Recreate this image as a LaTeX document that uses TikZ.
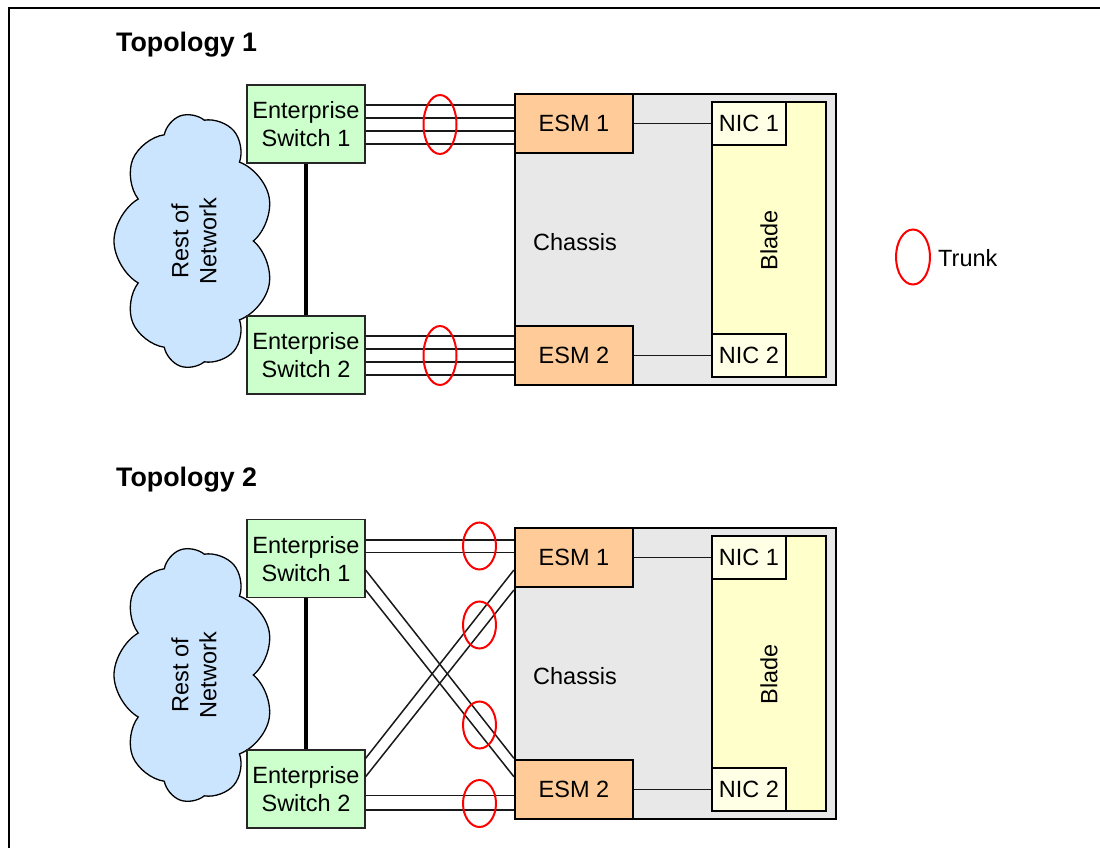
\documentclass[tikz,border=0pt]{standalone}
\usepackage{fontspec}
\setmainfont{Liberation Sans}
\usetikzlibrary{shapes.geometric,shapes.symbols}
\definecolor{cloudblue}{HTML}{CCE5FF}
\definecolor{esgreen}{HTML}{CCFFCC}
\definecolor{esmorange}{HTML}{FFCC99}
\definecolor{chassisgray}{HTML}{E8E8E8}
\definecolor{bladeyellow}{HTML}{FFFFCC}
\definecolor{nicyellow}{HTML}{FFFFE5}
\definecolor{trunkred}{HTML}{FF0000}
\begin{document}
\begin{tikzpicture}[x=1pt,y=-1pt,
  font=\fontsize{23.5}{28}\selectfont,
  title/.style={anchor=west, inner sep=0pt, font=\fontsize{26.8}{30}\selectfont\bfseries},
  cloudnode/.style={cloud, cloud puffs=9, cloud puff arc=120, draw, line width=1.3pt, fill=cloudblue, rotate=90, minimum width=254pt, minimum height=160pt, align=center, inner sep=0pt},
  esbox/.style={draw=black!85, line width=1.2pt, fill=esgreen, minimum width=118pt, minimum height=78pt, align=center, inner sep=0pt, text depth=-5.5pt},
  chassisbox/.style={draw, line width=2pt, fill=chassisgray, minimum width=321pt, minimum height=291pt, inner sep=0pt},
  esmbox/.style={draw, line width=2.2pt, fill=esmorange, minimum width=118pt, minimum height=59pt, inner sep=0pt, text depth=-5.5pt},
  bladebox/.style={draw, line width=2pt, fill=bladeyellow, minimum width=114pt, minimum height=275pt, inner sep=0pt},
  nicbox/.style={draw, line width=2pt, fill=nicyellow, minimum width=74pt, minimum height=43pt, inner sep=0pt, text depth=-5.5pt},
  plain/.style={inner sep=0pt},
  link/.style={line width=1.5pt, black!90},
  eslink/.style={line width=3.5pt},
  trunk/.style={ellipse, draw=trunkred, line width=2pt, minimum width=33pt, minimum height=59pt, inner sep=0pt},
  trunksmall/.style={trunk, minimum height=47pt}
]
\useasboundingbox (0,0) rectangle (1100,848);
% frame
\draw[line width=2pt] (9,848) -- (9,8) -- (1100,8);

% ================= Topology 1 =================
\node[title] (title1) at (116,45) {Topology 1};
\node[cloudnode] (cloud1) at (194,241) {Rest of\\Network};
\node[esbox] (es1) at (306,124) {Enterprise\\Switch 1};
\node[esbox] (es2) at (306,355) {Enterprise\\Switch 2};
\draw[eslink] (es1) -- (es2);

\node[chassisbox] (chassis1) at (675.5,239.5) {};
\node[plain] (chlabel1) at (575,242) {Chassis};
\node[esmbox] (esm1) at (574,123.5) {ESM 1};
\node[esmbox] (esm2) at (574,355.5) {ESM 2};
\node[bladebox] (blade1) at (769,239.5) {};
\node[plain, rotate=90] (bladelabel1) at (769,240) {Blade};
\node[nicbox] (nic1) at (749,123.5) {NIC 1};
\node[nicbox] (nic2) at (749,355.5) {NIC 2};
\draw[link] (esm1) -- (nic1);
\draw[link] (esm2) -- (nic2);

\foreach \d in {19,6,-7,-20}{
  \path ([yshift=\d pt]es1.east) coordinate (p);
  \draw[link] (p) -- (p -| esm1.west);
  \path ([yshift=\d pt]es2.east) coordinate (q);
  \draw[link] (q) -- (q -| esm2.west);
}
\node[trunk] (tr1) at (440,124.5) {};
\node[trunk] (tr2) at (440,355.5) {};

% legend
\node[trunk, minimum width=34pt, minimum height=55pt] (legend) at (913,257) {};
\node[plain, anchor=west] (legendlabel) at (938,258) {Trunk};

% ================= Topology 2 =================
\node[title] (title2) at (116,480) {Topology 2};
\node[cloudnode] (cloud2) at (194,675) {Rest of\\Network};
\node[esbox] (es3) at (306,558.5) {Enterprise\\Switch 1};
\node[esbox] (es4) at (306,789) {Enterprise\\Switch 2};
\draw[eslink] (es3) -- (es4);

\node[chassisbox] (chassis2) at (675.5,673.5) {};
\node[plain] (chlabel2) at (575,676) {Chassis};
\node[esmbox] (esm3) at (574,557.5) {ESM 1};
\node[esmbox] (esm4) at (574,789.5) {ESM 2};
\node[bladebox] (blade2) at (769,673.5) {};
\node[plain, rotate=90] (bladelabel2) at (769,674) {Blade};
\node[nicbox] (nic3) at (749,557.5) {NIC 1};
\node[nicbox] (nic4) at (749,789.5) {NIC 2};
\draw[link] (esm3) -- (nic3);
\draw[link] (esm4) -- (nic4);

% straight pairs
\foreach \d in {18.5,5.8}{
  \path ([yshift=\d pt]es3.east) coordinate (p);
  \draw[link] (p) -- (p -| esm3.west);
}
\foreach \d in {-6.7,-21}{
  \path ([yshift=\d pt]es4.east) coordinate (q);
  \draw[link] (q) -- (q -| esm4.west);
}
% crossing pairs
\draw[link] ([yshift=-11.5pt]es3.east) -- ([yshift=31.2pt]esm4.west);
\draw[link] ([yshift=-31.5pt]es3.east) -- ([yshift=12.8pt]esm4.west);
\draw[link] ([yshift=30.7pt]es4.east) -- ([yshift=-12.5pt]esm3.west);
\draw[link] ([yshift=12.3pt]es4.east) -- ([yshift=-32.5pt]esm3.west);

\node[trunksmall] (tr3) at (479.5,546) {};
\node[trunksmall] (tr4) at (479.5,625) {};
\node[trunksmall] (tr5) at (479.5,725) {};
\node[trunksmall] (tr6) at (479.5,803.5) {};
\end{tikzpicture}
\end{document}
